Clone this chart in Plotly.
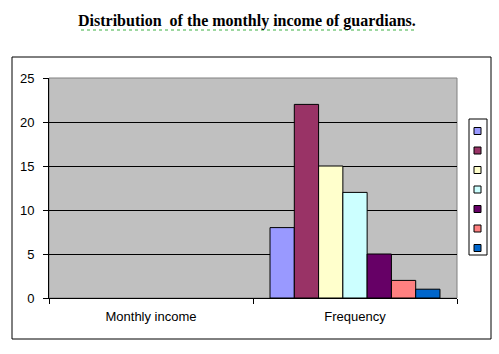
import plotly.graph_objects as go

categories = ["Monthly income", "Frequency"]
series_values = [8, 22, 15, 12, 5, 2, 1]
series_colors = ["#9999FF", "#993366", "#FFFFCC", "#CCFFFF", "#660066", "#FF8080", "#0066CC"]
y_ticks = [0, 5, 10, 15, 20, 25]
title_text = "Distribution  of the monthly income of guardians."

W, H = 499, 354
L, R, T, B = 49, 457, 78, 298  # plot area pixels
pw, ph = R - L, B - T

def px(x):
    return (x - L) / pw

def py(y):
    return (B - y) / ph

fig = go.Figure()
for i, v in enumerate(series_values):
    fig.add_trace(go.Bar(
        x=categories, y=[None, v], name=f"Series {i+1}",
        marker=dict(color=series_colors[i], line=dict(color="black", width=1)),
        showlegend=False,
    ))

shapes = []
# outer chart border
shapes.append(dict(type="rect", xref="paper", yref="paper",
                   x0=px(12), x1=px(491), y0=py(339), y1=py(57),
                   line=dict(color="black", width=1), layer="below"))
# plot area gray border
shapes.append(dict(type="rect", xref="paper", yref="paper",
                   x0=0, x1=1, y0=0, y1=1,
                   line=dict(color="#808080", width=1), layer="below"))
# legend box
shapes.append(dict(type="rect", xref="paper", yref="paper",
                   x0=px(469), x1=px(487), y0=py(255), y1=py(119),
                   line=dict(color="black", width=1), fillcolor="white"))
for i, c in enumerate(series_colors):
    cy = 131 + i * 19.5
    shapes.append(dict(type="rect", xref="paper", yref="paper",
                       x0=px(474), x1=px(481), y0=py(cy + 3.5), y1=py(cy - 3.5),
                       line=dict(color="black", width=1), fillcolor=c))
# spell-check squiggle under title
shapes.append(dict(type="line", xref="paper", yref="paper",
                   x0=px(81), x1=px(414), y0=py(30), y1=py(30),
                   line=dict(color="#3CB043", width=1, dash="dot")))

fig.update_layout(
    width=W, height=H,
    margin=dict(l=L, r=W - R, t=T, b=H - B, pad=0),
    paper_bgcolor="white",
    plot_bgcolor="#C0C0C0",
    barmode="group",
    bargap=0.167,
    bargroupgap=0,
    font=dict(family="Liberation Sans, Arial", size=13, color="black"),
    shapes=shapes,
    annotations=[dict(text=f"<b>{title_text}</b>", xref="paper", yref="paper",
                      x=px(247), y=py(21), xanchor="center", yanchor="middle",
                      showarrow=False,
                      font=dict(family="Liberation Serif, Times New Roman", size=16, color="black"))],
    xaxis=dict(type="category", tickson="boundaries", ticks="outside", ticklen=5,
               tickcolor="black", showline=True, linecolor="black", linewidth=1,
               showgrid=False, tickfont=dict(size=13), ticklabelstandoff=6),
    yaxis=dict(range=[0, 25], tickvals=y_ticks, ticks="outside", ticklen=5,
               tickcolor="black", showline=True, linecolor="black", linewidth=1,
               showgrid=True, gridcolor="black", gridwidth=1, zeroline=False,
               tickfont=dict(size=13), ticklabelstandoff=6),
)

fig.write_html("out.html")
